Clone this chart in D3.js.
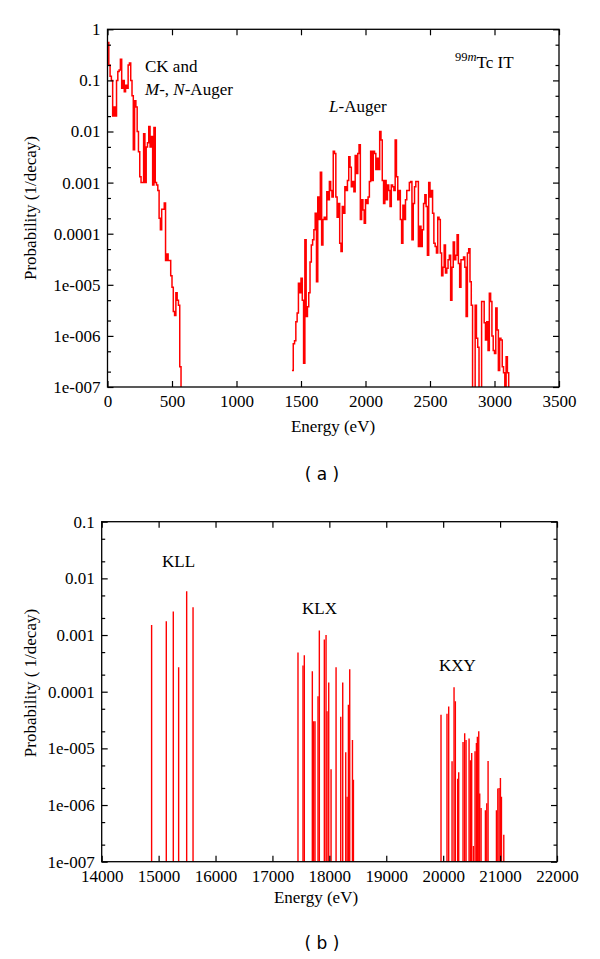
<!DOCTYPE html>
<html><head><meta charset="utf-8">
<script src="https://cdn.jsdelivr.net/npm/d3@7"></script>
<style>body{margin:0;background:#fff} svg{display:block}</style>
</head><body><svg id="c" width="600" height="959"></svg>
<script>
// ---------- data ----------
const binWidth = 10; // eV
// (a) CK and M-, N-Auger spectrum, bins starting at 0 eV
const lowStart = 0;
const lowProb = [0.55,0.2,0.12,0.1,0.02,0.03,0.02,0.1,0.15,0.16,
  0.26,0.07,0.1,0.06,0.08,0.07,0.2,0.22,0.1,0.05,
  0.0044,0.04,0.03,0.01,0.004,0.0013,0.001,0.001,0.009,0.001,
  0.005,0.006,0.0125,0.005,0.008,0.0009,0.012,0.001,0.0009,0.0007,
  0.0002,0.00012,0.0003,0.0003,0.0004,3e-5,4e-5,3e-5,3e-5,1.5e-5,
  9e-6,3e-6,2.5e-6,7e-6,5e-6,4e-6,2.5e-7];
// (a) L-Auger spectrum, bins starting at 1430 eV
const lStart = 1430;
const lProb = [2.1e-7,7e-7,8e-7,1.9e-6,2.8e-6,1.07e-5,7e-6,1.35e-5,5e-6,2.9e-7,
  7.6e-5,2.4e-6,3.7e-6,7e-6,2.8e-5,6e-5,7.6e-5,1.2e-4,2.5e-4,1.15e-5,
  5.2e-4,1.9e-4,1.6e-3,6e-5,1.9e-4,2.1e-4,1.9e-4,6.6e-4,4.6e-4,1.05e-3,
  7e-4,5.2e-4,4.1e-3,3.7e-3,5.2e-4,2.1e-4,3.9e-4,6.5e-5,4.5e-5,3.4e-4,
  2.5e-4,8.3e-4,7e-4,1.1e-3,3.2e-3,2e-3,8.3e-4,1.05e-3,6.6e-4,3.4e-3,
  1.5e-3,3.7e-3,5.5e-3,1.9e-4,4.6e-4,2.9e-4,1.6e-4,4.6e-4,3.9e-4,5.2e-4,
  1.05e-3,4.1e-3,1.1e-3,4.1e-3,3.7e-3,1.8e-3,3e-3,1.8e-3,1e-2,6.8e-3,
  1.1e-3,3.9e-4,1.1e-3,4.6e-4,9e-4,7e-4,3.4e-4,9e-4,8.3e-4,7e-4,
  6.8e-3,1.3e-3,4.6e-4,7e-4,1.9e-4,6.5e-5,3.6e-4,1.9e-4,4.6e-4,7e-4,
  7e-4,1e-3,1.05e-3,7.6e-5,3.9e-4,8.3e-4,1.05e-3,1.05e-3,5.6e-5,1.4e-4,
  5.6e-5,1.2e-4,3.9e-4,5.8e-4,3.4e-4,3.8e-5,1e-3,5.2e-4,7e-4,2.5e-4,
  6.5e-5,5.6e-5,4.2e-5,2.1e-4,1.9e-4,4.2e-5,1.5e-5,2.2e-5,6e-5,1.7e-5,
  2.1e-5,3.1e-5,3.8e-5,5e-6,2.2e-5,6.9e-5,3.1e-5,3.8e-5,9.5e-5,2.6e-5,
  9e-6,3.1e-5,3.1e-5,3.5e-5,2.2e-5,2.4e-6,4.2e-5,5.1e-5,1.15e-5,4e-6,
  0,0,4e-6,9e-7,6e-7,0,0,4.7e-6,4.7e-6,1.8e-6,
  8.3e-7,1.9e-6,5.2e-7,6.8e-6,4.7e-6,1e-6,5.2e-7,4.5e-7,3.5e-6,1.3e-6,
  2.1e-7,9e-7,8.3e-7,2.5e-7,1.9e-7,0,3.9e-7,1.9e-7];
// (b) K-Auger lines
const kllEnergy = [14877,15135,15258,15352,15493,15605];
const kllProb   = [1.5e-3,1.75e-3,2.6e-3,2.7e-4,5.9e-3,3.1e-3];
const klxEnergy = [17449,17537,17560,17701,17725,17748,17801,17824,17912,17942,17959,17989,18030,18118,18200,18235,18288,18312,18335,18358,18406,18423];
const klxProb   = [4.9e-4,2.9e-4,4.4e-4,2.3e-4,3e-5,3e-5,8.3e-5,1.2e-3,8.3e-4,1e-3,4.5e-5,1.45e-4,4.3e-6,2.7e-4,3.6e-5,1.45e-4,8.5e-6,1.4e-6,5.9e-5,2.5e-4,1.4e-5,2.8e-6];
const kxyEnergy = [19962,20067,20097,20156,20191,20214,20255,20273,20349,20378,20402,20455,20478,20501,20531,20560,20584,20601,20625,20642,20666,20742,20766,20789,20936,20960,20983,21006,21024,21065];
const kxyProb   = [3.9e-5,4.1e-5,5.5e-5,5.9e-6,1.2e-4,6.8e-5,2.9e-6,3.8e-6,1.3e-5,1.85e-5,1.4e-5,1.5e-5,6.2e-6,8.3e-6,1.9e-7,8.9e-6,1.25e-5,1.6e-5,2e-5,1.6e-6,8.9e-7,8.1e-7,1.07e-6,6e-6,8.1e-7,1.95e-6,2e-6,3e-6,1.4e-6,3e-7];
// ticks
const topXTicks = [0,500,1000,1500,2000,2500,3000,3500];
const topYTicks = [1,0.1,0.01,0.001,0.0001,1e-5,1e-6,1e-7];
const topYLabels = ["1","0.1","0.01","0.001","0.0001","1e-005","1e-006","1e-007"];
const botXTicks = [14000,15000,16000,17000,18000,19000,20000,21000,22000];
const botYTicks = [0.1,0.01,0.001,0.0001,1e-5,1e-6,1e-7];
const botYLabels = ["0.1","0.01","0.001","0.0001","1e-005","1e-006","1e-007"];
const minorMult = [2,5];

// ---------- drawing ----------
const svg = d3.select("#c");
const SERIF = "'Liberation Serif', 'Times New Roman', serif";
const RED = "#ff0000";

function minorTicks(domain){
  const out=[];
  for(let e=-8;e<=1;e++){ minorMult.forEach(m=>{const v=m*Math.pow(10,e); if(v>domain[0]*1.0001 && v<domain[1]*0.9999) out.push(v);}); }
  return out;
}

function panel(cfg){
  const {L,R,T,B,xDom,yDom,xTicks,yTicks,yLabels,id} = cfg;
  const x = d3.scaleLinear().domain(xDom).range([L,R]);
  const y = d3.scaleLog().domain(yDom).range([B,T]);
  const g = svg.append("g");
  g.append("clipPath").attr("id",id).append("rect").attr("x",L).attr("y",T).attr("width",R-L).attr("height",B-T);
  const plot = g.append("g").attr("clip-path",`url(#${id})`);
  const style = a => { a.select(".domain").remove(); a.selectAll("line").attr("stroke","#000").attr("stroke-width",1.2); a.selectAll("text").attr("font-family",SERIF).attr("font-size",17).attr("fill","#000"); };
  g.append("g").attr("transform",`translate(0,${B})`).call(d3.axisBottom(x).tickValues(xTicks).tickFormat(d3.format("d")).tickSize(-6).tickPadding(8)).call(style);
  g.append("g").attr("transform",`translate(0,${T})`).call(d3.axisTop(x).tickValues(xTicks).tickFormat("").tickSize(-6)).call(style);
  g.append("g").attr("transform",`translate(${L},0)`).call(d3.axisLeft(y).tickValues(yTicks).tickFormat((d,i)=>yLabels[i]).tickSize(-6).tickPadding(7)).call(style);
  g.append("g").attr("transform",`translate(${L},0)`).call(d3.axisLeft(y).tickValues(minorTicks(yDom)).tickFormat("").tickSize(-3.5)).call(style);
  g.append("g").attr("transform",`translate(${R},0)`).call(d3.axisRight(y).tickValues(yTicks).tickFormat("").tickSize(-6)).call(style);
  g.append("g").attr("transform",`translate(${R},0)`).call(d3.axisRight(y).tickValues(minorTicks(yDom)).tickFormat("").tickSize(-3.5)).call(style);
  g.append("rect").attr("x",L).attr("y",T).attr("width",R-L).attr("height",B-T).attr("fill","none").attr("stroke","#000").attr("stroke-width",1.3);
  const yv = v => v>0 ? y(v) : B+3;
  return {x,y,yv,plot,g};
}

function histPath(p, start, vals){
  const pts = vals.map((v,i)=>[start+i*binWidth, v]);
  pts.push([start+vals.length*binWidth, vals[vals.length-1]]);
  pts.push([start+vals.length*binWidth, 0]);
  const line = d3.line().x(d=>p.x(d[0])).y(d=>p.yv(d[1])).curve(d3.curveStepAfter);
  p.plot.append("path").attr("d",line(pts)).attr("fill","none").attr("stroke",RED).attr("stroke-width",1.5).attr("stroke-linejoin","miter");
}

// Panel (a)
const pa = panel({L:107.5,R:559,T:29.3,B:387,xDom:[0,3500],yDom:[1e-7,1],xTicks:topXTicks,yTicks:topYTicks,yLabels:topYLabels,id:"ca"});
histPath(pa, lowStart, lowProb);
histPath(pa, lStart, lProb);

// Panel (b)
const pb = panel({L:101.7,R:557,T:521.7,B:861.7,xDom:[14000,22000],yDom:[1e-7,0.1],xTicks:botXTicks,yTicks:botYTicks,yLabels:botYLabels,id:"cb"});
[[kllEnergy,kllProb],[klxEnergy,klxProb],[kxyEnergy,kxyProb]].forEach(([E,P])=>{
  pb.plot.selectAll(null).data(E.map((e,i)=>({e,p:P[i]}))).enter().append("line")
    .attr("x1",d=>pb.x(d.e)).attr("x2",d=>pb.x(d.e))
    .attr("y1",pb.y(1e-7)+2).attr("y2",d=>pb.y(d.p))
    .attr("stroke",RED).attr("stroke-width",1.4);
});

// ---------- text ----------
function txt(x,y,opt={}){
  const t = svg.append("text").attr("x",x).attr("y",y).attr("font-family",opt.family||SERIF).attr("font-size",opt.size||17).attr("fill","#000").attr("text-anchor",opt.anchor||"start");
  if(opt.rotate) t.attr("transform",`rotate(-90,${x},${y})`);
  return t;
}
// axis titles
txt(333,432,{anchor:"middle"}).text("Energy (eV)");
txt(316,903,{anchor:"middle"}).text("Energy (eV)");
txt(36,208,{anchor:"middle",rotate:true}).text("Probability (1/decay)");
txt(36,683,{anchor:"middle",rotate:true}).text("Probability ( 1/decay)");
// annotations (a)
txt(145,72).text("CK and");
{ const t = txt(145,95); t.append("tspan").attr("font-style","italic").text("M"); t.append("tspan").text("-, "); t.append("tspan").attr("font-style","italic").text("N"); t.append("tspan").text("-Auger"); }
{ const t = txt(329,112); t.append("tspan").attr("font-style","italic").text("L"); t.append("tspan").text("-Auger"); }
{ const t = txt(455,68); t.append("tspan").attr("font-size",12.5).attr("dy",-7).text("99"); t.append("tspan").attr("font-size",12.5).attr("font-style","italic").text("m"); t.append("tspan").attr("dy",7).text("Tc IT"); }
// annotations (b)
txt(162,567).text("KLL");
txt(302,614).text("KLX");
txt(439,671).text("KXY");
// panel labels
txt(322,480,{anchor:"middle",family:"'DejaVu Sans', Verdana, sans-serif",size:17}).text("( a )");
txt(322,949,{anchor:"middle",family:"'DejaVu Sans', Verdana, sans-serif",size:17}).text("( b )");
</script></body></html>
